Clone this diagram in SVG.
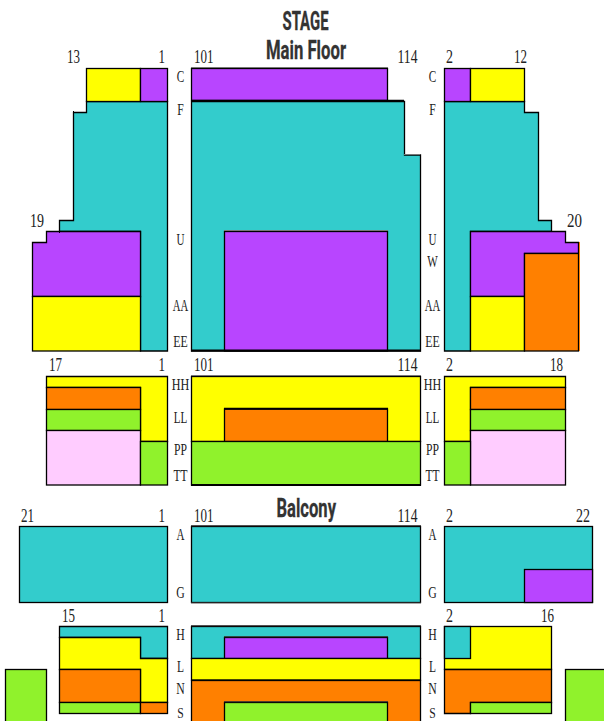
<svg xmlns="http://www.w3.org/2000/svg" width="604" height="721" viewBox="0 0 604 721">
<style>
.s{stroke:#000;stroke-width:1.3;stroke-linejoin:miter}
.t{fill:#33cccc}.p{fill:#b845ff}.y{fill:#ffff00}.o{fill:#ff8000}.g{fill:#90f22c}.k{fill:#ffccff}
.e{fill:none;stroke:#777;stroke-width:1}
.b{fill:none;stroke:#000;stroke-width:2}
text{font-family:"Liberation Serif","Times New Roman",serif;font-size:16.5px;fill:#222}
#seat-numbers text{font-size:18px}
.m{text-anchor:middle}
.h{font-family:"Roboto","Liberation Sans",sans-serif;font-weight:700;font-size:26px;fill:#333;stroke:#333;stroke-width:.3}
</style>
<rect width="604" height="721" fill="#fff"/>
<g id="titles">
<text class="h" x="282.5" y="30" textLength="46" lengthAdjust="spacingAndGlyphs">STAGE</text>
<text class="h" x="266" y="59" textLength="80" lengthAdjust="spacingAndGlyphs">Main Floor</text>
<text class="h" x="276.5" y="517" textLength="59.5" lengthAdjust="spacingAndGlyphs">Balcony</text>
</g>
<g id="main-left" class="s">
<path class="t" d="M86.5 101.5H167.5V351H140.5V231.5H59.5V220.5H73.5V112.5H86.5Z"/>
<rect class="y" x="86.5" y="68.5" width="54" height="33"/>
<rect class="p" x="140.5" y="68.5" width="27" height="33"/>
<path class="p" d="M46.5 231.5H140.5V296.5H32.5V242.5H46.5Z"/>
<rect class="y" x="32.5" y="296.5" width="108" height="54.5"/>
<path class="e" style="stroke:#000" d="M73.5 111V113M59.5 231V233"/>
</g>
<g id="main-center" class="s">
<path class="t" d="M191.5 101.5H404.5V155H420.5V351H191.5Z"/>
<rect class="p" x="191.5" y="68.5" width="196" height="32"/>
<rect class="p" x="224.5" y="231.5" width="163" height="119.5"/>
<path class="e" d="M191 67.5H388M404 154.5H420M224 230.5H388"/>
<path class="b" d="M191 100.8H404M191 350.6H421"/>
</g>
<g id="main-right" class="s">
<path class="t" d="M444.5 101.5H524.5V112.5H538.5V220.5H551.5V231.5H470.5V351H444.5Z"/>
<rect class="p" x="444.5" y="68.5" width="26" height="33"/>
<rect class="y" x="470.5" y="68.5" width="54" height="33"/>
<path class="p" d="M470.5 231.5H565.5V242.5H578.5V253.5H524.5V296.5H470.5Z"/>
<rect class="y" x="470.5" y="296.5" width="54" height="54.5"/>
<rect class="o" x="524.5" y="253.5" width="54" height="97.5"/>
<path class="o" style="stroke:none" d="M579 242H580V351H579Z"/>
</g>
<g id="rear-left" class="s">
<path class="y" d="M46.5 376.5H167.5V441.5H140.5V387.5H46.5Z"/>
<rect class="o" x="46.5" y="387.5" width="94" height="22"/>
<rect class="g" x="46.5" y="409.5" width="94" height="21"/>
<rect class="k" x="46.5" y="430.5" width="94" height="54.5"/>
<rect class="g" x="140.5" y="441.5" width="27" height="43.5"/>
</g>
<g id="rear-center" class="s">
<rect class="y" x="191.5" y="376.5" width="229" height="65"/>
<rect class="o" x="224.5" y="409" width="163" height="32.5"/>
<rect class="g" x="191.5" y="441.5" width="229" height="43.5"/>
<path class="e" d="M191 375.5H421"/>
<path class="b" d="M224 408.7H388M191 485H421"/>
</g>
<g id="rear-right" class="s">
<path class="y" d="M444.5 376.5H565.5V387.5H470.5V441.5H444.5Z"/>
<rect class="o" x="470.5" y="387.5" width="95" height="22"/>
<rect class="g" x="470.5" y="409.5" width="95" height="21"/>
<rect class="k" x="470.5" y="430.5" width="95" height="54.5"/>
<rect class="g" x="444.5" y="441.5" width="26" height="43.5"/>
</g>
<g id="balcony-front-left" class="s"><rect class="t" x="19.5" y="526.5" width="148" height="76"/></g>
<g id="balcony-front-center" class="s"><rect class="t" x="191.5" y="526.5" width="229" height="76"/>
<path class="e" style="stroke:#333" d="M191 525.7H421M191 602.8H421"/></g>
<g id="balcony-front-right" class="s">
<rect class="t" x="444.5" y="526.5" width="148" height="76"/>
<rect class="p" x="524.5" y="569.5" width="68" height="33"/>
</g>
<g id="balcony-rear-left" class="s">
<path class="t" d="M59.5 626.5H167.5V658.5H140.5V637.5H59.5Z"/>
<path class="y" d="M59.5 637.5H140.5V658.5H167.5V702.5H140.5V669.5H59.5Z"/>
<rect class="o" x="59.5" y="669.5" width="81" height="33"/>
<rect class="g" x="59.5" y="702.5" width="81" height="11"/>
<rect class="o" x="140.5" y="702.5" width="27" height="11"/>
</g>
<g id="balcony-rear-center" class="s">
<rect class="t" x="191.5" y="626.5" width="229" height="32"/>
<rect class="p" x="224.5" y="637.5" width="163" height="21"/>
<rect class="y" x="191.5" y="658.5" width="229" height="21.5"/>
<rect class="o" x="191.5" y="680.5" width="229" height="50"/>
<rect class="g" x="224.5" y="702.5" width="163" height="28"/>
<path class="e" style="stroke:#333" d="M191 625.7H421M224 636.7H388M224 701.7H388"/>
</g>
<g id="balcony-rear-right" class="s">
<rect class="y" x="444.5" y="626.5" width="107" height="43"/>
<rect class="t" x="444.5" y="626.5" width="26" height="32"/>
<path class="o" d="M444.5 669.5H551.5V702.5H470.5V713.5H444.5Z"/>
<rect class="g" x="470.5" y="702.5" width="81" height="11"/>
</g>
<g id="side-left" class="s"><rect class="g" x="5.5" y="669.5" width="41" height="60"/></g>
<g id="side-right" class="s"><rect class="g" x="565.5" y="669.5" width="45" height="60"/></g>
<g id="seat-numbers">
<text x="67" y="63" textLength="13" lengthAdjust="spacingAndGlyphs">13</text>
<text x="158.5" y="63" textLength="6.5" lengthAdjust="spacingAndGlyphs">1</text>
<text x="194" y="63" textLength="19.5" lengthAdjust="spacingAndGlyphs">101</text>
<text x="397.5" y="63" textLength="20" lengthAdjust="spacingAndGlyphs">114</text>
<text x="446" y="63" textLength="7" lengthAdjust="spacingAndGlyphs">2</text>
<text x="514" y="63" textLength="13" lengthAdjust="spacingAndGlyphs">12</text>
<text x="30" y="227" textLength="14" lengthAdjust="spacingAndGlyphs">19</text>
<text x="567" y="227" textLength="15" lengthAdjust="spacingAndGlyphs">20</text>
<text x="49" y="371" textLength="13" lengthAdjust="spacingAndGlyphs">17</text>
<text x="158.5" y="371" textLength="6.5" lengthAdjust="spacingAndGlyphs">1</text>
<text x="194" y="371" textLength="19.5" lengthAdjust="spacingAndGlyphs">101</text>
<text x="397.5" y="371" textLength="20" lengthAdjust="spacingAndGlyphs">114</text>
<text x="446" y="371" textLength="7" lengthAdjust="spacingAndGlyphs">2</text>
<text x="550" y="371" textLength="13" lengthAdjust="spacingAndGlyphs">18</text>
<text x="21" y="522" textLength="13" lengthAdjust="spacingAndGlyphs">21</text>
<text x="158.5" y="522" textLength="6.5" lengthAdjust="spacingAndGlyphs">1</text>
<text x="194" y="522" textLength="19.5" lengthAdjust="spacingAndGlyphs">101</text>
<text x="397.5" y="522" textLength="20" lengthAdjust="spacingAndGlyphs">114</text>
<text x="446" y="522" textLength="7" lengthAdjust="spacingAndGlyphs">2</text>
<text x="576" y="522" textLength="14" lengthAdjust="spacingAndGlyphs">22</text>
<text x="62" y="622" textLength="13" lengthAdjust="spacingAndGlyphs">15</text>
<text x="158.5" y="622" textLength="6.5" lengthAdjust="spacingAndGlyphs">1</text>
<text x="446" y="622" textLength="7" lengthAdjust="spacingAndGlyphs">2</text>
<text x="541" y="622" textLength="13" lengthAdjust="spacingAndGlyphs">16</text>
</g>
<g id="row-labels">
<text class="m" x="180.5" y="82" textLength="7.5" lengthAdjust="spacingAndGlyphs">C</text>
<text class="m" x="432.5" y="82" textLength="7.5" lengthAdjust="spacingAndGlyphs">C</text>
<text class="m" x="180.5" y="115" textLength="6.5" lengthAdjust="spacingAndGlyphs">F</text>
<text class="m" x="432.5" y="115" textLength="6.5" lengthAdjust="spacingAndGlyphs">F</text>
<text class="m" x="180.5" y="245" textLength="8" lengthAdjust="spacingAndGlyphs">U</text>
<text class="m" x="432.5" y="245" textLength="8" lengthAdjust="spacingAndGlyphs">U</text>
<text class="m" x="432.5" y="267" textLength="10.5" lengthAdjust="spacingAndGlyphs">W</text>
<text class="m" x="180.5" y="311" textLength="15.5" lengthAdjust="spacingAndGlyphs">AA</text>
<text class="m" x="432.5" y="311" textLength="15.5" lengthAdjust="spacingAndGlyphs">AA</text>
<text class="m" x="180.5" y="347" textLength="14.5" lengthAdjust="spacingAndGlyphs">EE</text>
<text class="m" x="432.5" y="347" textLength="14.5" lengthAdjust="spacingAndGlyphs">EE</text>
<text class="m" x="180.5" y="390" textLength="17.5" lengthAdjust="spacingAndGlyphs">HH</text>
<text class="m" x="432.5" y="390" textLength="17.5" lengthAdjust="spacingAndGlyphs">HH</text>
<text class="m" x="180.5" y="423" textLength="13.5" lengthAdjust="spacingAndGlyphs">LL</text>
<text class="m" x="432.5" y="423" textLength="13.5" lengthAdjust="spacingAndGlyphs">LL</text>
<text class="m" x="180.5" y="455" textLength="13" lengthAdjust="spacingAndGlyphs">PP</text>
<text class="m" x="432.5" y="455" textLength="13" lengthAdjust="spacingAndGlyphs">PP</text>
<text class="m" x="180.5" y="481" textLength="14" lengthAdjust="spacingAndGlyphs">TT</text>
<text class="m" x="432.5" y="481" textLength="14" lengthAdjust="spacingAndGlyphs">TT</text>
<text class="m" x="180.5" y="540" textLength="8" lengthAdjust="spacingAndGlyphs">A</text>
<text class="m" x="432.5" y="540" textLength="8" lengthAdjust="spacingAndGlyphs">A</text>
<text class="m" x="180.5" y="598" textLength="8.5" lengthAdjust="spacingAndGlyphs">G</text>
<text class="m" x="432.5" y="598" textLength="8.5" lengthAdjust="spacingAndGlyphs">G</text>
<text class="m" x="180.5" y="640" textLength="8.5" lengthAdjust="spacingAndGlyphs">H</text>
<text class="m" x="432.5" y="640" textLength="8.5" lengthAdjust="spacingAndGlyphs">H</text>
<text class="m" x="180.5" y="672" textLength="7" lengthAdjust="spacingAndGlyphs">L</text>
<text class="m" x="432.5" y="672" textLength="7" lengthAdjust="spacingAndGlyphs">L</text>
<text class="m" x="180.5" y="694" textLength="8.5" lengthAdjust="spacingAndGlyphs">N</text>
<text class="m" x="432.5" y="694" textLength="8.5" lengthAdjust="spacingAndGlyphs">N</text>
<text class="m" x="180.5" y="717.5" style="font-size:15px" textLength="6.5" lengthAdjust="spacingAndGlyphs">S</text>
<text class="m" x="432.5" y="717.5" style="font-size:15px" textLength="6.5" lengthAdjust="spacingAndGlyphs">S</text>
</g>
</svg>
